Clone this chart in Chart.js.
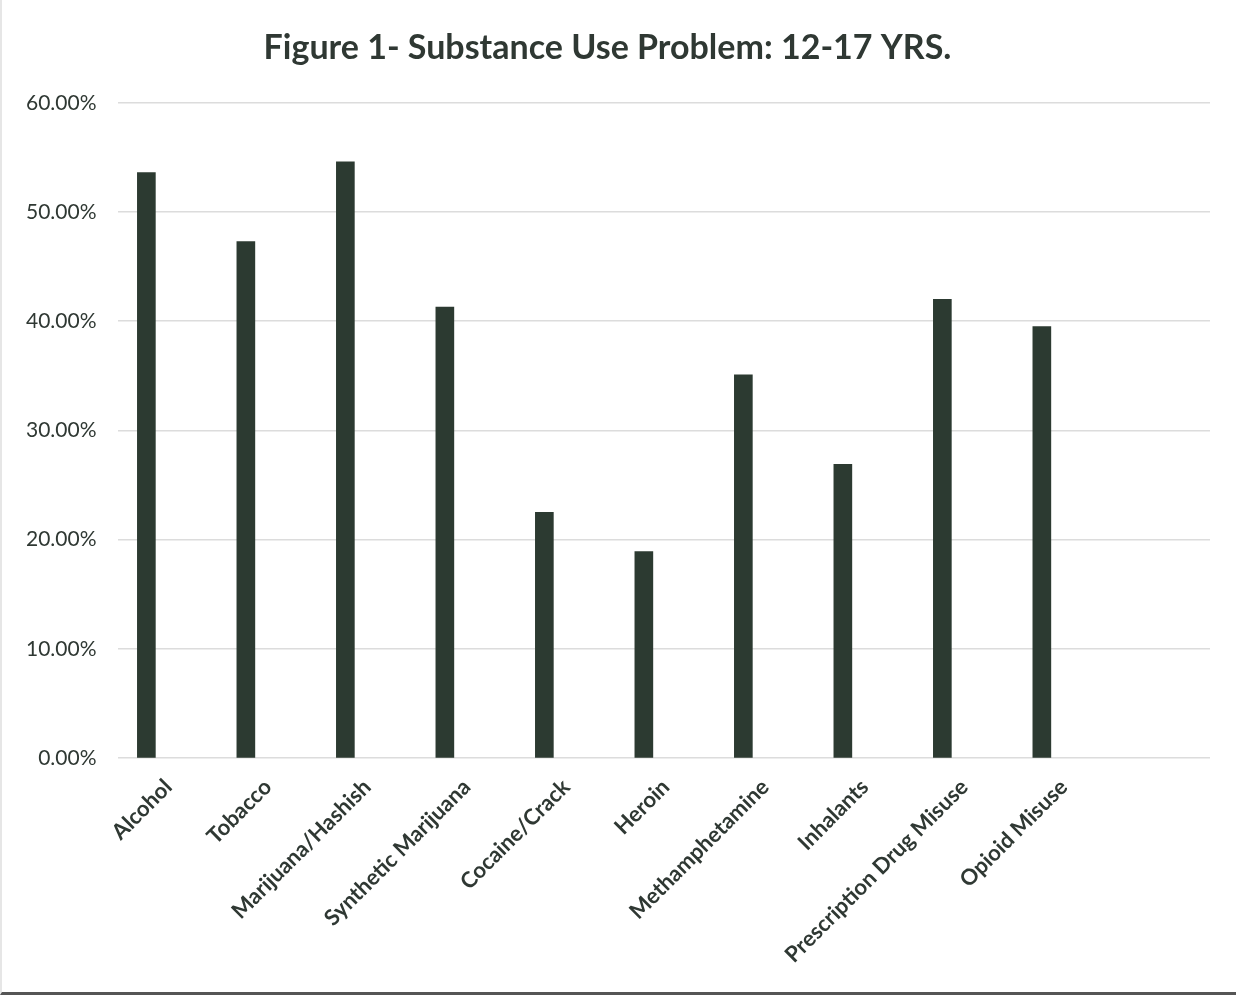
<!DOCTYPE html>
<html>
<head>
<meta charset="utf-8">
<script src="https://cdn.jsdelivr.net/npm/chart.js@4"></script>
<style>
    body { margin: 0; background: #fff; }
    #wrap { position: relative; width: 1236px; height: 995px; box-sizing: border-box; border-left: 2px solid #e6e6e6; border-bottom: 3px solid #555; }
</style>
</head>
<body>
<div id="wrap"><canvas id="substanceChart"></canvas></div>
<script>
const substances = ['Alcohol', 'Tobacco', 'Marijuana/Hashish', 'Synthetic Marijuana', 'Cocaine/Crack',
    'Heroin', 'Methamphetamine', 'Inhalants', 'Prescription Drug Misuse', 'Opioid Misuse'];
const percentages = [53.6, 47.3, 54.6, 41.3, 22.5, 18.9, 35.1, 26.9, 42.0, 39.5];
const yTicks = [0, 10, 20, 30, 40, 50, 60];

document.addEventListener('DOMContentLoaded', function() {
    const ctx = document.getElementById('substanceChart').getContext('2d');
    const points = substances.map((s, i) => ({ x: i, y: percentages[i] }));

    new Chart(ctx, {
        type: 'bar',
        data: {
            datasets: [{
                label: 'Substance Use Problem',
                data: points,
                backgroundColor: '#2c3a31',
                barThickness: 18
            }]
        },
        options: {
            responsive: true,
            maintainAspectRatio: false,
            animation: false,
            layout: { padding: { left: 3, right: 26, top: 22, bottom: 16 } },
            plugins: {
                legend: { display: false },
                tooltip: { enabled: false },
                title: {
                    display: true,
                    text: 'Figure 1- Substance Use Problem: 12-17 YRS.',
                    color: '#2f3833',
                    font: { family: 'Lato', size: 34, weight: 'bold' },
                    padding: { top: 6, bottom: 34 }
                }
            },
            scales: {
                x: {
                    type: 'linear',
                    offset: false,
                    min: -0.29,
                    max: 10.69,
                    afterBuildTicks: function(axis) {
                        axis.ticks = substances.map((s, i) => ({ value: i }));
                    },
                    grid: { display: false },
                    border: { display: false },
                    ticks: {
                        autoSkip: false,
                        maxRotation: 45,
                        minRotation: 45,
                        labelOffset: 22,
                        padding: 8,
                        color: '#2f3833',
                        font: { family: 'Lato', size: 22, weight: 'bold' },
                        callback: v => substances[v] || ''
                    }
                },
                y: {
                    min: 0,
                    max: 60,
                    afterBuildTicks: function(axis) {
                        axis.ticks = yTicks.map(v => ({ value: v }));
                    },
                    grid: { color: '#dcdcdc', lineWidth: 1.5, drawTicks: false },
                    border: { display: false },
                    ticks: {
                        padding: 21,
                        color: '#2f3833',
                        font: { family: 'Lato', size: 21 },
                        callback: v => v.toFixed(2) + '%'
                    }
                }
            }
        }
    });
});
</script>
</body>
</html>
